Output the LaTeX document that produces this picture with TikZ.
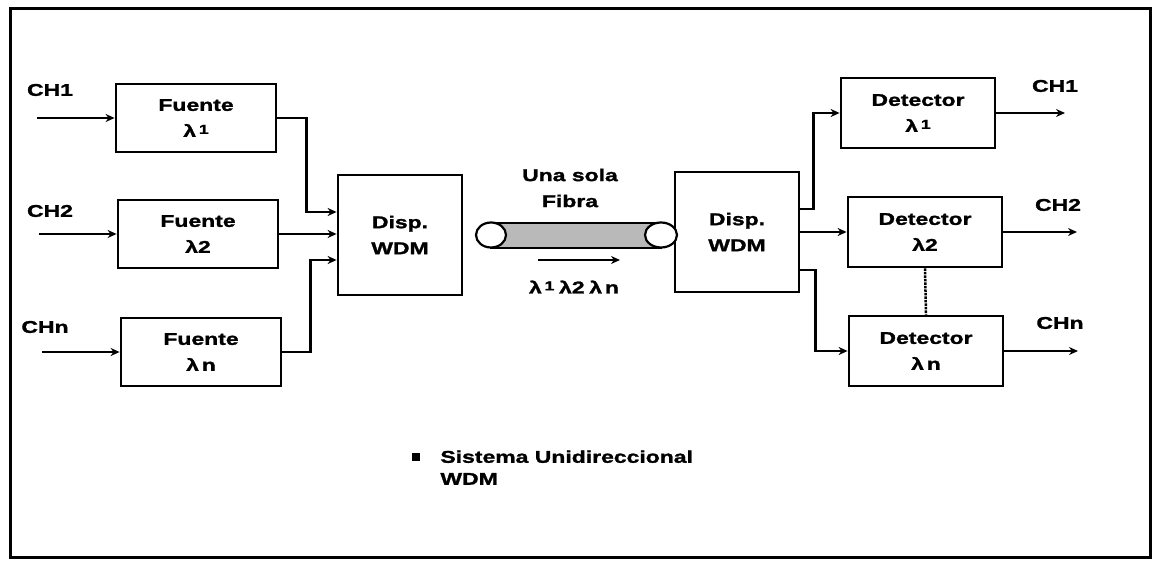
\documentclass[tikz,border=0pt]{standalone}
\usepackage{fontspec}
\setmainfont[FakeStretch=1.35, BoldFeatures={FakeBold=1.5}]{Liberation Sans}
\usetikzlibrary{arrows.meta,shapes.geometric}

\newcommand{\lsup}[1]{\raisebox{3pt}{\fontsize{13}{13}\selectfont #1}}

\begin{document}
\begin{tikzpicture}[
	>={Stealth[length=9pt,width=8pt]},
	line width=2.2pt,
	x=1pt,y=-1pt,
	font=\fontsize{17}{26}\selectfont\bfseries,
	blk/.style={draw, line width=2.8pt, align=center, inner sep=0pt},
	fuente/.style={blk, minimum width=160, minimum height=68},
	detect/.style={blk, minimum width=154, minimum height=70},
	disp/.style={blk, minimum width=124, minimum height=120},
	fibend/.style={draw, ellipse, line width=2.2pt, fill=white, minimum height=25, inner sep=0pt},
	]
	% frame
\useasboundingbox (0,0) rectangle (1159,561);
\draw[line width=3pt] (10,9) rectangle (1150,557);

% sources
			\node[fuente] (f1)   at (196,118) {Fuente\\λ\,\lsup{1}};
			\node[fuente] (f2)   at (198,234) {Fuente\\λ2};
			\node[fuente] (fn)   at (201,352) {Fuente\\λ\,n};
			\node (ch1_in)   at (50,90) {CH1};
			\node (ch2_in)   at (50,211) {CH2};
			\node (chn_in)   at (45,327) {CHn};
			\coordinate (in1) at (37,118);
			\coordinate (in2) at (39,234);
			\coordinate (inn) at (42,352);

% multiplexers
			\node[disp] (disp1)   at (400,235) {Disp.\\WDM};
			\node[disp] (disp2)   at (737,232) {Disp.\\WDM};

% detectors
			\node[detect] (d1)   at (918,113) {Detector\\λ\,\lsup{1}};
			\node[detect] (d2)   at (925,232) {Detector\\λ2};
			\node[detect] (dn)   at (926,351) {Detector\\λ\,n};
			\node (ch1_out)   at (1055,86) {CH1};
			\node (ch2_out)   at (1058,205) {CH2};
			\node (chn_out)   at (1060,323) {CHn};
			\coordinate (out1) at (1065,113);
			\coordinate (out2) at (1077,232);
			\coordinate (outn) at (1078,351);

% fibre
			\draw[line width=1.8pt, fill=gray!55] (491,223) rectangle (661,248);
			\node[fibend, minimum width=30] (fib_l) at (491,235) {};
			\node[fibend, minimum width=32] (fib_r) at (661,235) {};
			\node[align=center] (fibra)   at (570,188) {Una sola\\Fibra};
			\coordinate (ar1) at (538,260);
			\coordinate (ar2) at (620,260);
			\node (lams)   at (574,287) {λ\,\lsup{1}\;λ2\;λ\,n};

			\draw[->] (in1) -- (f1.west);
			\draw[->] (in2) -- (f2.west);
			\draw[->] (inn) -- (fn.west);
			\draw[->] (f1.east) -- ++(29,0) |- ([yshift=23pt]disp1.west);
			\draw[->] (f2.east) -- (disp1.west |- f2.east);
			\draw[->] (fn.east) -- ++(28,0) |- ([yshift=-25pt]disp1.west);
			\draw[->] (ar1) -- (ar2);
			\draw[->] ([yshift=23pt]disp2.east) -- ++(13,0) |- (d1.west);
			\draw[->] (disp2.east) -- (d2.west);
			\draw[->] ([yshift=-38pt]disp2.east) -- ++(15,0) |- (dn.west);
			\draw[->] (d1.east) -- (out1);
			\draw[->] (d2.east) -- (out2);
			\draw[->] (dn.east) -- (outn);
			\draw[densely dotted, line width=2.5pt] (d2.south) -- (dn.north);

% caption
			\node[fill, minimum size=8pt, inner sep=0pt] (bullet)   at (416,457) {};
			\node[anchor=north west, align=left, font=\fontsize{17}{22}\selectfont\bfseries] (caption)   at (436,446) {Sistema Unidireccional\\WDM};

\end{tikzpicture}
\end{document}
